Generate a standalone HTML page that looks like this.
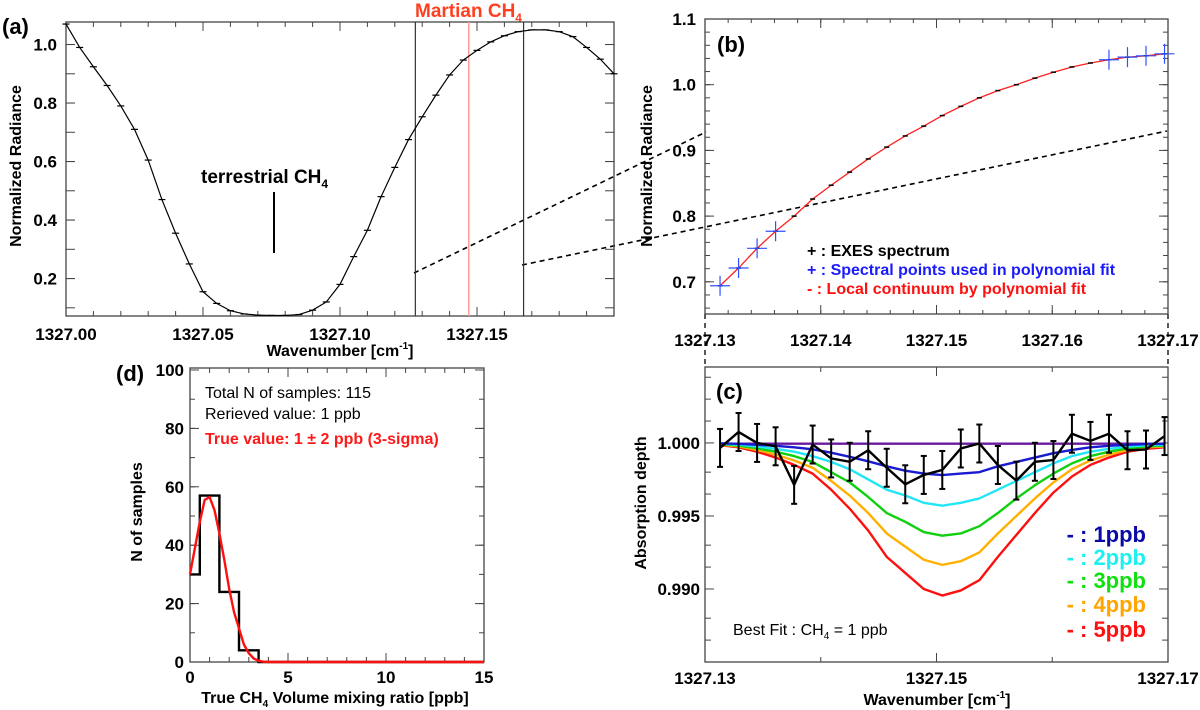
<!DOCTYPE html>
<html><head><meta charset="utf-8">
<style>
html,body{margin:0;padding:0;background:#fff;}
svg{display:block;font-family:"Liberation Sans",Arial,sans-serif;}
.b{font-weight:bold;}
</style></head>
<body>
<svg id="fig" width="1200" height="710" viewBox="0 0 1200 710" xmlns="http://www.w3.org/2000/svg">
<rect x="0" y="0" width="1200" height="710" fill="#fff"/>
<!-- static text -->
<text x="2" y="34" font-size="22" class="b">(a)</text>
<text x="415" y="17" font-size="19" class="b" fill="#ff4020">Martian CH<tspan font-size="12" dy="5">4</tspan></text>
<text x="201" y="183" font-size="19" class="b">terrestrial CH<tspan font-size="12" dy="5">4</tspan></text>
<line x1="274" y1="192" x2="274" y2="253" stroke="#000" stroke-width="2"/>
<text transform="translate(21,166) rotate(-90)" text-anchor="middle" font-size="16" class="b">Normalized Radiance</text>
<text x="340" y="356" text-anchor="middle" font-size="16" class="b">Wavenumber [cm<tspan font-size="10" dy="-7">-1</tspan><tspan dy="7">]</tspan></text>

<text x="717" y="52" font-size="22" class="b">(b)</text>
<text transform="translate(652,166) rotate(-90)" text-anchor="middle" font-size="16" class="b">Normalized Radiance</text>
<text x="807" y="256" font-size="16" class="b" fill="#000">+ : EXES spectrum</text>
<text x="807" y="275" font-size="16" class="b" fill="#1a1aff">+ : Spectral points used in polynomial fit</text>
<text x="807" y="294" font-size="16" class="b" fill="#ff1010">- :  Local continuum by polynomial fit</text>

<text x="716" y="399" font-size="22" class="b">(c)</text>
<text transform="translate(646,503) rotate(-90)" text-anchor="middle" font-size="16" class="b">Absorption depth</text>
<text x="937" y="705" text-anchor="middle" font-size="16" class="b">Wavenumber [cm<tspan font-size="10" dy="-7">-1</tspan><tspan dy="7">]</tspan></text>
<text x="733" y="635" font-size="16">Best Fit : CH<tspan font-size="10" dy="4">4</tspan><tspan dy="-4"> = 1 ppb</tspan></text>
<g font-size="22" class="b">
<text x="1146" y="542" text-anchor="end" fill="#0a0aa8">- : 1ppb</text>
<text x="1146" y="565" text-anchor="end" fill="#1ef0f0">- : 2ppb</text>
<text x="1146" y="588" text-anchor="end" fill="#10e010">- : 3ppb</text>
<text x="1146" y="612" text-anchor="end" fill="#ffa500">- : 4ppb</text>
<text x="1146" y="637" text-anchor="end" fill="#ff1010">- : 5ppb</text>
</g>

<text x="116" y="381" font-size="22" class="b">(d)</text>
<text transform="translate(142,512) rotate(-90)" text-anchor="middle" font-size="16" class="b">N of samples</text>
<text x="335" y="703" text-anchor="middle" font-size="16" class="b">True CH<tspan font-size="10" dy="4">4</tspan><tspan dy="-4"> Volume mixing ratio [ppb]</tspan></text>
<text x="205" y="398" font-size="16">Total N of samples: 115</text>
<text x="205" y="419" font-size="16">Rerieved value: 1 ppb</text>
<text x="205" y="444" font-size="16" class="b" fill="#ff1a1a">True value: 1 ± 2 ppb (3-sigma)</text>

<!-- zoom connectors -->
<line x1="414" y1="273" x2="706" y2="132" stroke="#000" stroke-width="1.6" stroke-dasharray="5,4"/>
<line x1="522" y1="265" x2="1167" y2="131" stroke="#000" stroke-width="1.6" stroke-dasharray="5,4"/>
<line x1="705" y1="314" x2="705" y2="367" stroke="#000" stroke-width="1.3" stroke-dasharray="5,4"/>
<line x1="1168" y1="314" x2="1168" y2="367" stroke="#000" stroke-width="1.3" stroke-dasharray="5,4"/>
</svg>
<script>
// ---------- data ----------
// Panel (a): full spectrum, sampled every 0.005 cm-1 from 1327.000
const aStart = 1327.000;
const aStep = 0.005;
const aValues = [1.07,0.99,0.924,0.86,0.79,0.71,0.605,0.47,0.355,0.25,0.155,0.115,0.09,0.079,0.075,0.074,0.074,0.077,0.092,0.12,0.18,0.275,0.365,0.48,0.58,0.675,0.753,0.827,0.896,0.947,0.98,1.009,1.03,1.044,1.05,1.05,1.044,1.027,0.99,0.95,0.90];
const aVLines = [1327.1275, 1327.167];
const aMartian = 1327.147;
const aXTicks = [1327.00,1327.05,1327.10,1327.15];
const aXTickLabels = ["1327.00","1327.05","1327.10","1327.15"];
const aYTicks = [0.2,0.4,0.6,0.8,1.0];
const aYTickLabels = ["0.2","0.4","0.6","0.8","1.0"];
// Panels (b),(c): spectral grid
const bcStart = 1327.1313;
const bcStep = 0.0016;
const bValues = [0.694,0.721,0.751,0.777,0.800,0.826,0.847,0.867,0.887,0.905,0.922,0.937,0.953,0.967,0.980,0.991,1.000,1.010,1.019,1.027,1.033,1.038,1.042,1.044,1.047];
const bFitIdx = [0,1,2,3,21,22,23,24];
const bXTicks = [1327.13,1327.14,1327.15,1327.16,1327.17];
const bXTickLabels = ["1327.13","1327.14","1327.15","1327.16","1327.17"];
const bYTicks = [0.7,0.8,0.9,1.0,1.1];
const bYTickLabels = ["0.7","0.8","0.9","1.0","1.1"];
const cObs = [0.99966,1.00075,1.0,0.99977,0.99713,0.99989,0.99894,0.99871,0.9995,0.9983,0.99717,0.99781,0.99815,0.99962,0.99996,0.99849,0.99742,0.99871,0.99883,1.00063,1.00014,1.00063,0.9995,0.99955,1.00047];
const cErr = 0.0013;
// model depths in units of 1e-4
const cDepth1 = [0.3,0.6,1.3,2,3,4.4,6.7,9.5,12.6,16,19,21,22,21,20,16,13,10,7,4.8,3,2,1.3,0.8,0.6];
const cDepth2 = [0.6,1.2,2.5,4,6,9,13,18,25,32,36,41,43,41,38,32,26,20,14,9,6,4,2.5,1.6,1.2];
const cDepth3 = [0.9,1.8,3.7,6,9,13,20,27,37,48,54,61,63.5,62,57,48,38,29,21,14,9,6,3.7,2.4,1.8];
const cDepth4 = [1.2,2.4,4.8,8,12,17,26,36,48,62,71,80,83.5,81,75,62,50,38,27,18,12,8,5,3,2.4];
const cDepth5 = [1.5,3,6,10,15,21,32,45,60,78,89,100,104.5,101,94,78,63,48,34,23,15,10,6,4,3];
const cXTicks = [1327.13,1327.15,1327.17];
const cXTickLabels = ["1327.13","1327.15","1327.17"];
const cYTicks = [0.990,0.995,1.000];
const cYTickLabels = ["0.990","0.995","1.000"];
// Panel (d): histogram
const dBinEdges = [0,0.5,1.5,2.5,3.5,15];
const dCounts = [30,57,24,4,0];
const dFitX = [0,0.25,0.5,0.75,1.0,1.25,1.5,1.75,2.0,2.25,2.5,2.75,3.0,3.25,3.5,3.75,4.0,15];
const dFitY = [30,39,48,55.5,56.5,52,44,35,25,17,11.5,6,3,1.2,0.4,0.1,0,0];
const dXTicks = [0,5,10,15];
const dXTickLabels = ["0","5","10","15"];
const dYTicks = [0,20,40,60,80,100];
const dYTickLabels = ["0","20","40","60","80","100"];

// ---------- helpers ----------
const NS = 'http://www.w3.org/2000/svg';
const svg = document.getElementById('fig');
function el(tag, attrs, name) {
  const e = document.createElementNS(NS, tag);
  for (const k in attrs) e.setAttribute(k, attrs[k]);
  
  
  svg.appendChild(e);
  return e;
}
function scale(d0, d1, p0, p1) { return v => p0 + (v - d0) * (p1 - p0) / (d1 - d0); }
function frame(L, T, R, B, name) {
  el('rect', {x:L, y:T, width:R-L, height:B-T, fill:'none', stroke:'#444', 'stroke-width':1.3}, name);
}
function xticks(sx, T, B, vals, len, labels, ly, name) {
  vals.forEach((v, i) => {
    const x = sx(v);
    el('line', {x1:x, y1:B, x2:x, y2:B-len, stroke:'#444', 'stroke-width':1}, name + '-tick');
    el('line', {x1:x, y1:T, x2:x, y2:T+len, stroke:'#444', 'stroke-width':1}, name + '-tick-top');
    if (labels) {
      const t = el('text', {x:x, y:ly, 'text-anchor':'middle', 'font-size':17, 'font-weight':'bold'}, name + '-label');
      t.textContent = labels[i];
    }
  });
}
function yticks(sy, L, R, vals, len, labels, lx, name) {
  vals.forEach((v, i) => {
    const y = sy(v);
    el('line', {x1:L, y1:y, x2:L+len, y2:y, stroke:'#444', 'stroke-width':1}, name + '-tick');
    el('line', {x1:R, y1:y, x2:R-len, y2:y, stroke:'#444', 'stroke-width':1}, name + '-tick-right');
    if (labels) {
      const t = el('text', {x:lx, y:y+6, 'text-anchor':'end', 'font-size':17, 'font-weight':'bold'}, name + '-label');
      t.textContent = labels[i];
    }
  });
}
function range(a, b, s) { const r = []; for (let v = a; v <= b + 1e-9; v += s) r.push(+v.toFixed(6)); return r; }

// ---------- panel a ----------
{
  const L=66, R=614, T=22, B=316;
  const sx = scale(1327.0, 1327.2, L, R), sy = scale(0.072, 1.077, B, T);
  frame(L,T,R,B,'panel-a-frame');
  xticks(sx, T, B, range(1327.0,1327.2,0.01), 5, null, 0, 'panel-a-x-minor');
  xticks(sx, T, B, aXTicks, 9, aXTickLabels, 340, 'panel-a-x');
  yticks(sy, L, R, range(0.1,1.0,0.1), 9, null, 0, 'panel-a-y-minor');
  yticks(sy, L, R, aYTicks, 9, aYTickLabels, 57, 'panel-a-y');
  aVLines.forEach(v => el('line', {x1:sx(v), y1:T, x2:sx(v), y2:B, stroke:'#333', 'stroke-width':1.2}, 'selection-boundary'));
  el('line', {x1:sx(aMartian), y1:T, x2:sx(aMartian), y2:B, stroke:'#ff9a9a', 'stroke-width':1.5}, 'martian-ch4-line');
  const pts = aValues.map((v,i) => sx(aStart + i*aStep) + ',' + sy(v)).join(' ');
  el('polyline', {points:pts, fill:'none', stroke:'#000', 'stroke-width':1.2}, 'panel-a-spectrum');
  aValues.forEach((v,i) => {
    const x = sx(aStart + i*aStep), y = sy(v);
    el('line', {x1:x-3.5, y1:y, x2:x+3.5, y2:y, stroke:'#000', 'stroke-width':1.2}, 'panel-a-point');
  });
}
// ---------- panel b ----------
{
  const L=705, R=1168, T=19, B=314;
  const sx = scale(1327.13, 1327.17, L, R), sy = scale(0.651, 1.1, B, T);
  frame(L,T,R,B,'panel-b-frame');
  xticks(sx, T, B, range(1327.13,1327.17,0.002), 4, null, 0, 'panel-b-x-minor');
  xticks(sx, T, B, bXTicks, 9, bXTickLabels, 346, 'panel-b-x');
  yticks(sy, L, R, range(0.66,1.1,0.02), 5, null, 0, 'panel-b-y-minor');
  yticks(sy, L, R, bYTicks, 9, bYTickLabels, 696, 'panel-b-y');
  const pts = bValues.map((v,i) => sx(bcStart + i*bcStep) + ',' + sy(v)).join(' ');
  el('polyline', {points:pts, fill:'none', stroke:'#ff2020', 'stroke-width':1.3}, 'continuum-fit-line');
  bValues.forEach((v,i) => {
    const x = sx(bcStart + i*bcStep), y = sy(v);
    el('line', {x1:x-2.5, y1:y, x2:x+2.5, y2:y, stroke:'#000', 'stroke-width':1.5}, 'exes-point');
  });
  bFitIdx.forEach(i => {
    const x = sx(bcStart + i*bcStep), y = sy(bValues[i]);
    el('line', {x1:x-10, y1:y, x2:x+10, y2:y, stroke:'#3050ff', 'stroke-width':1.2}, 'fit-point-h');
    el('line', {x1:x, y1:y-10, x2:x, y2:y+10, stroke:'#3050ff', 'stroke-width':1.2}, 'fit-point-v');
  });
}
// ---------- panel c ----------
{
  const L=705, R=1168, T=367, B=662;
  const sx = scale(1327.13, 1327.17, L, R), sy = scale(0.985, 1.0052, B, T);
  frame(L,T,R,B,'panel-c-frame');
  xticks(sx, T, B, [1327.14,1327.16], 5, null, 0, 'panel-c-x-minor');
  xticks(sx, T, B, cXTicks, 9, cXTickLabels, 684, 'panel-c-x');
  yticks(sy, L, R, [0.9865,0.988,0.9915,0.993,0.9965,0.998,1.0015,1.003,1.0045], 6, null, 0, 'panel-c-y-minor');
  yticks(sy, L, R, cYTicks, 9, cYTickLabels, 700, 'panel-c-y');
  el('line', {x1:sx(bcStart), y1:sy(0.99995), x2:sx(bcStart+24*bcStep), y2:sy(0.99995), stroke:'#6a1aa0', 'stroke-width':2.4}, 'model-0ppb');
  const models = [[cDepth5,'#ff1010','model-5ppb'],[cDepth4,'#ffb000','model-4ppb'],[cDepth3,'#10d010','model-3ppb'],[cDepth2,'#22e6f6','model-2ppb'],[cDepth1,'#1a1ad0','model-1ppb']];
  models.forEach(m => {
    const pts = m[0].map((d,i) => sx(bcStart + i*bcStep) + ',' + sy(1 - d*1e-4)).join(' ');
    el('polyline', {points:pts, fill:'none', stroke:m[1], 'stroke-width':2.4, 'stroke-linejoin':'round'}, m[2]);
  });
  const pts = cObs.map((v,i) => sx(bcStart + i*bcStep) + ',' + sy(v)).join(' ');
  el('polyline', {points:pts, fill:'none', stroke:'#000', 'stroke-width':2.4}, 'observed-spectrum');
  cObs.forEach((v,i) => {
    const x = sx(bcStart + i*bcStep), y1 = sy(v+cErr), y2 = sy(v-cErr);
    el('line', {x1:x, y1:y1, x2:x, y2:y2, stroke:'#000', 'stroke-width':2}, 'error-bar');
    el('line', {x1:x-3, y1:y1, x2:x+3, y2:y1, stroke:'#000', 'stroke-width':2}, 'error-cap');
    el('line', {x1:x-3, y1:y2, x2:x+3, y2:y2, stroke:'#000', 'stroke-width':2}, 'error-cap');
  });
}
// ---------- panel d ----------
{
  const L=190, R=484, T=368, B=662;
  const sx = scale(0, 15, L, R), sy = scale(0, 100, B, T+2);
  frame(L,T,R,B,'panel-d-frame');
  xticks(sx, T, B, range(0,15,1), 5, null, 0, 'panel-d-x-minor');
  xticks(sx, T, B, dXTicks, 9, dXTickLabels, 683, 'panel-d-x');
  yticks(sy, L, R, range(0,100,10), 5, null, 0, 'panel-d-y-minor');
  yticks(sy, L, R, dYTicks, 9, dYTickLabels, 184, 'panel-d-y');
  let d = 'M' + sx(dBinEdges[0]) + ',' + sy(dCounts[0]);
  dCounts.forEach((c,i) => {
    d += ' L' + sx(dBinEdges[i]) + ',' + sy(c) + ' L' + sx(dBinEdges[i+1]) + ',' + sy(c);
    if (i+1 < dCounts.length) d += ' L' + sx(dBinEdges[i+1]) + ',' + sy(dCounts[i+1]);
  });
  el('path', {d:d, fill:'none', stroke:'#000', 'stroke-width':2.4}, 'histogram');
  const fp = dFitX.map((x,i) => sx(x) + ',' + sy(dFitY[i])).join(' ');
  el('polyline', {points:fp, fill:'none', stroke:'#ff1010', 'stroke-width':2.4, 'stroke-linejoin':'round'}, 'gaussian-fit');
}
</script>
</body></html>
